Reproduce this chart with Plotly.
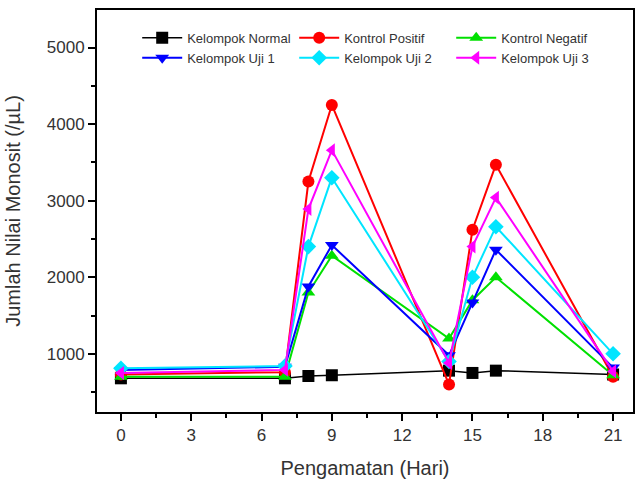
import plotly.graph_objects as go

days = [0, 7, 8, 9, 14, 15, 16, 21]
normal = [680, 680, 710, 720, 780, 750, 780, 730]
positif = [730, 760, 3250, 4250, 600, 2620, 3470, 700]
negatif = [700, 700, 1800, 2280, 1200, 1700, 2000, 720]
uji1 = [790, 830, 1880, 2420, 980, 1670, 2360, 820]
uji2 = [810, 840, 2400, 3300, 900, 2000, 2660, 1000]
uji3 = [750, 790, 2890, 3660, 880, 2400, 3040, 770]

series = [
    ("Kelompok Normal", normal, "#000000", "square"),
    ("Kontrol Positif", positif, "#ff0000", "circle"),
    ("Kontrol Negatif", negatif, "#00e000", "triangle-up"),
    ("Kelompok Uji 1", uji1, "#0000ff", "triangle-down"),
    ("Kelompok Uji 2", uji2, "#00e5ff", "diamond"),
    ("Kelompok Uji 3", uji3, "#ff00ff", "triangle-left"),
]

fig = go.Figure()
for name, vals, col, sym in series:
    fig.add_trace(go.Scatter(
        x=days, y=vals, name=name, mode="lines+markers",
        line=dict(color=col, width=2 if name != "Kelompok Normal" else 1.5),
        marker=dict(symbol=sym, size=12, color=col, line=dict(width=0)),
    ))

font_family = "Liberation Sans, Arial, sans-serif"
fig.update_layout(
    width=636, height=479,
    margin=dict(l=97, r=3, t=10, b=67),
    paper_bgcolor="white", plot_bgcolor="white",
    font=dict(family=font_family, color="#222222"),
    legend=dict(
        orientation="h", x=0.075, y=0.968, xanchor="left", yanchor="top",
        entrywidth=102, entrywidthmode="pixels",
        font=dict(size=13, color="#333333"),
        bgcolor="rgba(0,0,0,0)", tracegroupgap=0, itemwidth=40,
    ),
)
fig.update_xaxes(
    range=[-1.02, 21.85], tickvals=[0, 3, 6, 9, 12, 15, 18, 21],
    ticks="outside", ticklen=7, tickwidth=2, tickcolor="black",
    minor=dict(tickvals=[1.5, 4.5, 7.5, 10.5, 13.5, 16.5, 19.5], ticks="outside", ticklen=4, tickwidth=1.5, tickcolor="black"),
    showline=True, linecolor="black", linewidth=2, mirror=True,
    showgrid=False, zeroline=False, automargin=False,
    tickfont=dict(size=17, color="#333333"),
    title=dict(text="Pengamatan (Hari)", font=dict(size=20, color="#333333"), standoff=22),
)
fig.update_yaxes(
    range=[240, 5490], tickvals=[1000, 2000, 3000, 4000, 5000],
    ticks="outside", ticklen=7, tickwidth=2, tickcolor="black",
    minor=dict(tickvals=[500, 1500, 2500, 3500, 4500], ticks="outside", ticklen=4, tickwidth=1.5, tickcolor="black"),
    showline=True, linecolor="black", linewidth=2, mirror=True,
    showgrid=False, zeroline=False, automargin=False,
    tickfont=dict(size=17, color="#333333"),
    title=dict(text="Jumlah Nilai Monosit (/µL)", font=dict(size=20, color="#333333"), standoff=21),
)
fig.write_html("out.html")
